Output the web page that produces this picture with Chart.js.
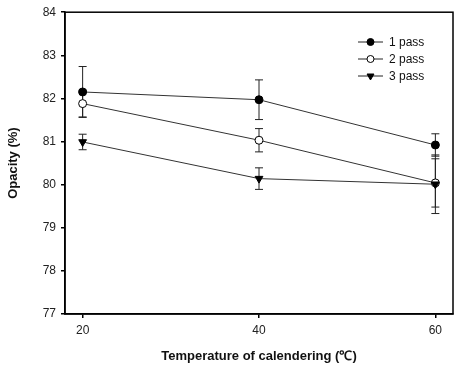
<!DOCTYPE html>
<html>
<head>
<meta charset="utf-8">
<script src="https://cdn.jsdelivr.net/npm/chart.js@4.4.1/dist/chart.umd.min.js"></script>
<style>
  html, body { margin: 0; padding: 0; background: #fff; }
  #wrap { width: 465px; height: 368px; position: relative; }
</style>
</head>
<body>
<div id="wrap"><canvas id="chart"></canvas></div>
<script>
  // temperature of calendering (deg C)
  const temps = [20, 40, 60];
  const yTicks = [77, 78, 79, 80, 81, 82, 83, 84];

  // opacity (%) and its error (+/-)
  const pass1 = [82.15, 81.97, 80.92];
  const pass1Err = [0.59, 0.46, 0.26];
  const pass2 = [81.88, 81.03, 80.04];
  const pass2Err = [0.31, 0.27, 0.56];
  const pass3 = [80.99, 80.14, 80.01];
  const pass3Err = [0.18, 0.25, 0.68];

  const seriesNames = ["1 pass", "2 pass", "3 pass"];

  const tickFont = { family: "'Liberation Sans', Arial, sans-serif", size: 12 };
  const titleFont = { family: "'Liberation Sans', Arial, sans-serif", size: 13, weight: "bold" };

  const toPoints = (vals) => vals.map((v, i) => ({ x: temps[i], y: v }));

  // error bars under the markers, plus frame and legend on top
  const sigmaPlot = {
    id: "sigmaPlot",
    beforeDatasetsDraw(chart) {
      const { ctx, scales: { x, y } } = chart;
      ctx.save();
      ctx.strokeStyle = "#222";
      ctx.lineWidth = 1;
      chart.data.datasets.forEach((ds) => {
        ds.data.forEach((p, i) => {
          const e = ds.errors[i];
          const px = x.getPixelForValue(p.x);
          const top = y.getPixelForValue(p.y + e);
          const bot = y.getPixelForValue(p.y - e);
          ctx.beginPath();
          ctx.moveTo(px, top); ctx.lineTo(px, bot);
          ctx.moveTo(px - 4, top); ctx.lineTo(px + 4, top);
          ctx.moveTo(px - 4, bot); ctx.lineTo(px + 4, bot);
          ctx.stroke();
        });
      });
      ctx.restore();
    },
    afterDraw(chart) {
      const { ctx, chartArea: a } = chart;
      ctx.save();
      ctx.strokeStyle = "#000";
      ctx.lineWidth = 1.5;
      ctx.strokeRect(a.left, a.top, a.right - a.left, a.bottom - a.top);

      const lx = 358, ly = 42, gap = 17;
      ctx.font = "12px 'Liberation Sans', Arial, sans-serif";
      ctx.textBaseline = "middle";
      chart.data.datasets.forEach((ds, i) => {
        const yy = ly + i * gap;
        ctx.strokeStyle = "#222";
        ctx.lineWidth = 1;
        ctx.beginPath();
        ctx.moveTo(lx, yy); ctx.lineTo(lx + 25, yy);
        ctx.stroke();
        ctx.fillStyle = ds.pointBackgroundColor;
        ctx.strokeStyle = "#000";
        Chart.helpers.drawPoint(ctx, {
          pointStyle: ds.pointStyle,
          radius: ds.pointStyle === "triangle" ? 4 : 3.5,
          rotation: ds.rotation,
          borderWidth: 1
        }, lx + 12.5, yy);
        ctx.fillStyle = "#111";
        ctx.fillText(ds.label, lx + 31, yy + 1);
      });
      ctx.restore();
    }
  };

  function makeSet(label, vals, errs, style, fill, order, rotation = 0) {
    return {
      label,
      data: toPoints(vals),
      errors: errs,
      borderColor: "#333",
      borderWidth: 1,
      pointStyle: style,
      rotation,
      pointRotation: rotation,
      pointRadius: style === "triangle" ? 4.5 : 4,
      pointBackgroundColor: fill,
      pointBorderColor: "#000",
      pointBorderWidth: 1,
      showLine: true,
      tension: 0,
      order
    };
  }

  const datasets = [
    makeSet(seriesNames[0], pass1, pass1Err, "circle", "#000", 1),
    makeSet(seriesNames[1], pass2, pass2Err, "circle", "#fff", 2),
    makeSet(seriesNames[2], pass3, pass3Err, "triangle", "#000", 0, 180)
  ];

  new Chart(document.getElementById("chart"), {
    type: "scatter",
    data: { datasets },
    plugins: [sigmaPlot],
    options: {
      responsive: true,
      maintainAspectRatio: false,
      animation: false,
      layout: { padding: { top: 11, right: 12, left: 0, bottom: 0 } },
      plugins: { legend: { display: false }, tooltip: { enabled: false } },
      scales: {
        x: {
          type: "linear",
          min: 18,
          max: 62,
          afterBuildTicks: (s) => { s.ticks = temps.map((v) => ({ value: v })); },
          afterFit: (s) => { s.height = 54; },
          grid: { drawOnChartArea: false, drawTicks: true, tickLength: 4, color: "#000", lineWidth: 1.5 },
          border: { display: true, color: "#000", width: 1.5 },
          ticks: { color: "#222", font: tickFont, padding: 5, maxRotation: 0 },
          title: {
            display: true,
            text: "Temperature of calendering (\u2103)",
            color: "#111",
            font: titleFont,
            padding: { top: 0, bottom: 4 }
          }
        },
        y: {
          min: 77,
          max: 84,
          afterBuildTicks: (s) => { s.ticks = yTicks.map((v) => ({ value: v })); },
          afterFit: (s) => { s.width = 65; },
          grid: { drawOnChartArea: false, drawTicks: true, tickLength: 4, color: "#000", lineWidth: 1.5 },
          border: { display: true, color: "#000", width: 1.5 },
          ticks: { color: "#222", font: tickFont, padding: 5 },
          title: {
            display: true,
            text: "Opacity (%)",
            color: "#111",
            font: titleFont,
            padding: { top: 6, bottom: 0 }
          }
        }
      }
    }
  });
</script>
</body>
</html>
